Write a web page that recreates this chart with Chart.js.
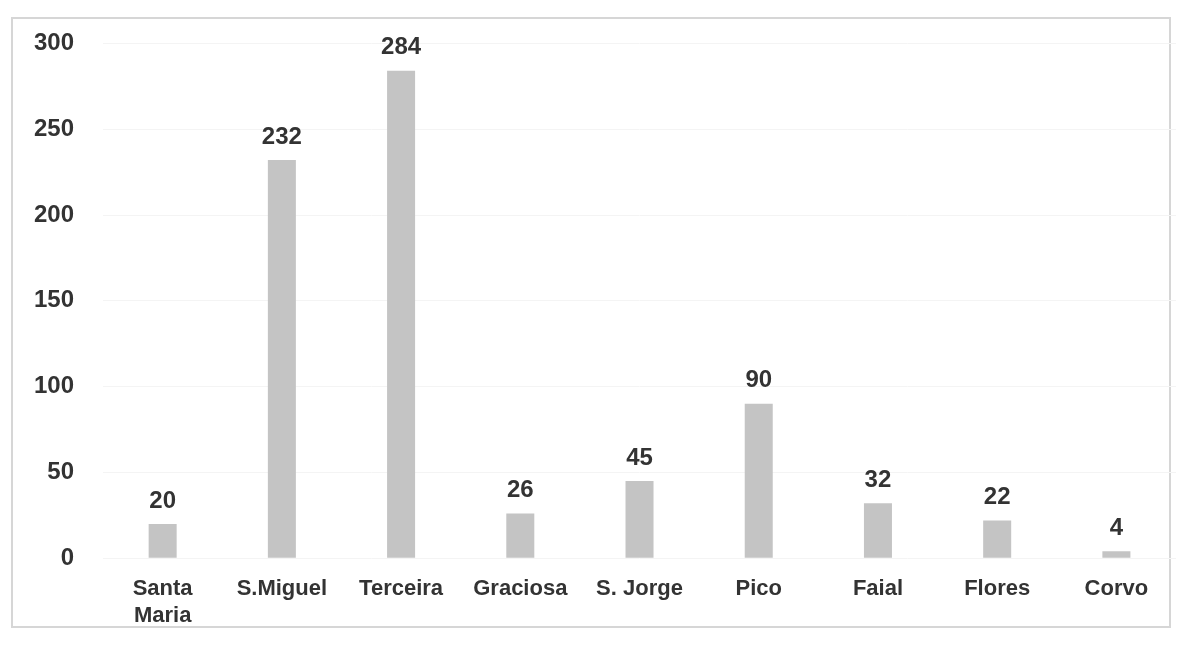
<!DOCTYPE html>
<html lang="pt">
<head>
    <meta charset="UTF-8">
    <title>Ilhas</title>
    <style>
        * { margin: 0; padding: 0; box-sizing: border-box; }
        body { background: #fff; width: 1182px; height: 650px; overflow: hidden; position: relative; }
        .frame {
            position: absolute;
            left: 11px; top: 17px;
            width: 1160px; height: 611px;
            border: 2px solid #d6d6d6;
        }
        #chart { position: absolute; left: 0; top: 0; }
    </style>
</head>
<body>
    <div class="frame"></div>
    <canvas id="chart" width="1182" height="650"></canvas>

    <script src="https://cdn.jsdelivr.net/npm/chart.js@4.4.0/dist/chart.umd.min.js"></script>
    <script>
        // Data
        const islands = [['Santa', 'Maria'], 'S.Miguel', 'Terceira', 'Graciosa', 'S. Jorge', 'Pico', 'Faial', 'Flores', 'Corvo'];
        const counts = [20, 232, 284, 26, 45, 90, 32, 22, 4];
        const yTicks = [0, 50, 100, 150, 200, 250, 300];

        const textColor = '#333';
        const fontFamily = '"Liberation Sans", Arial, sans-serif';

        // draws the value above each bar
        const valueLabels = {
            id: 'valueLabels',
            afterDatasetsDraw(chart) {
                const ctx = chart.ctx;
                const meta = chart.getDatasetMeta(0);
                ctx.save();
                ctx.fillStyle = textColor;
                ctx.font = 'bold 24px ' + fontFamily;
                ctx.textAlign = 'center';
                ctx.textBaseline = 'bottom';
                meta.data.forEach((bar, i) => {
                    ctx.fillText(chart.data.datasets[0].data[i], bar.x, bar.y - 11);
                });
                ctx.restore();
            }
        };

        new Chart(document.getElementById('chart'), {
            type: 'bar',
            data: {
                labels: islands,
                datasets: [{
                    data: counts,
                    backgroundColor: '#c4c4c4',
                    borderWidth: 0,
                    barPercentage: 0.47,
                    categoryPercentage: 0.5
                }]
            },
            options: {
                responsive: false,
                animation: false,
                layout: { padding: { top: 39, left: 5, right: 6, bottom: 11 } },
                plugins: {
                    legend: { display: false },
                    tooltip: { enabled: false }
                },
                scales: {
                    x: {
                        grid: { display: false },
                        border: { display: false },
                        ticks: {
                            color: textColor,
                            font: { family: fontFamily, size: 22, weight: 'bold' },
                            padding: 10,
                            maxRotation: 0,
                            autoSkip: false
                        }
                    },
                    y: {
                        min: 0,
                        max: 300,
                        afterBuildTicks(axis) {
                            axis.ticks = yTicks.map(v => ({ value: v }));
                        },
                        grid: { color: '#f4f4f4', drawTicks: false },
                        border: { display: false },
                        ticks: {
                            color: textColor,
                            font: { family: fontFamily, size: 24, weight: 'bold' },
                            padding: 29
                        }
                    }
                }
            },
            plugins: [valueLabels]
        });
    </script>
</body>
</html>
